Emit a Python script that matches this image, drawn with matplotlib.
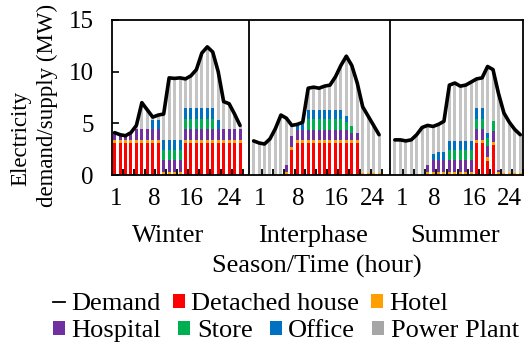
import numpy as np
import matplotlib
matplotlib.use("Agg")
import matplotlib.pyplot as plt
from matplotlib.patches import Patch
from matplotlib.lines import Line2D

plt.rcParams['font.family'] = ['Liberation Serif', 'DejaVu Serif']

# ---------------- data ----------------
seasons = ["Winter", "Interphase", "Summer"]
hour_labels = ["1", "8", "16", "24"]
series_names = ["Detached house", "Hotel", "Hospital", "Store", "Office", "Power Plant"]
series_colors = ["#FF0000", "#FFA000", "#7030A0", "#00B050", "#0070C0", "#C4C4C4"]

winter_demand = [4.1, 3.9, 3.8, 4.1, 4.8, 7.0, 6.3, 5.6, 5.8, 5.9, 9.4, 9.35,
                 9.4, 9.3, 9.6, 10.2, 11.8, 12.4, 11.9, 10.0, 7.1, 6.9, 5.9, 4.8]
winter_house = [3.05, 3.05, 3.05, 3.05, 3.05, 3.05, 3.05, 3.05, 3.05, 0, 0, 0,
                0, 3.05, 3.05, 3.05, 3.05, 3.05, 3.05, 3.05, 3.05, 3.05, 3.05, 3.05]
winter_hotel = [0.35, 0.35, 0.35, 0.35, 0.35, 0.35, 0.35, 0.35, 0.35, 0.3, 0.3, 0.3,
                0.3, 0.35, 0.35, 0.35, 0.35, 0.35, 0.35, 0.35, 0.35, 0.35, 0.35, 0.35]
winter_hospital = [0.7, 0.5, 0.4, 0.7, 1.05, 1.05, 1.05, 1.05, 1.05, 1.15, 1.15, 1.15,
                   1.15, 1.05, 1.05, 1.05, 1.05, 1.05, 1.05, 1.05, 1.05, 1.05, 1.05, 1.05]
winter_store = [0, 0, 0, 0, 0, 0, 0, 0, 0, 1.0, 1.0, 1.0,
                1.0, 1.0, 1.0, 1.0, 1.0, 1.0, 1.0, 0, 0, 0, 0, 0]
winter_office = [0, 0, 0, 0, 0, 0, 0, 0.9, 0.9, 0.9, 0.9, 0.9,
                 0.9, 1.0, 1.0, 1.0, 1.0, 1.0, 1.0, 0.9, 0, 0, 0, 0]
winter_plant = [0, 0, 0, 0, 0.35, 2.55, 1.85, 0.25, 0.45, 2.55, 6.05, 6.0,
                6.05, 2.85, 3.15, 3.75, 5.35, 5.95, 5.45, 4.65, 2.65, 2.45, 1.45, 0.35]

inter_demand = [3.3, 3.1, 3.0, 3.5, 4.5, 5.8, 5.5, 4.8, 4.9, 5.1, 8.4, 8.5,
                8.4, 8.6, 8.7, 9.5, 10.6, 11.5, 10.6, 8.9, 6.6, 5.7, 4.8, 3.9]
inter_house = [0, 0, 0, 0, 0, 0, 0, 2.4, 3.05, 3.05, 3.05, 3.05,
               3.05, 3.05, 3.05, 3.05, 3.05, 3.05, 3.05, 3.05, 0, 0, 0, 0]
inter_hotel = [0, 0, 0, 0, 0, 0, 0.3, 0.3, 0.3, 0.3, 0.3, 0.3,
               0.3, 0.3, 0.3, 0.3, 0.3, 0.3, 0.3, 0.3, 0.2, 0.2, 0.2, 0.2]
inter_hospital = [0, 0, 0, 0, 0, 0, 0.65, 1.1, 1.0, 1.0, 1.0, 1.0,
                  1.0, 1.0, 1.0, 1.0, 1.0, 1.0, 0.75, 0.7, 0, 0, 0, 0]
inter_store = [0, 0, 0, 0, 0, 0, 0, 0, 0, 0, 1.05, 1.05,
               1.05, 1.05, 1.05, 1.05, 1.05, 0.75, 0.6, 0, 0, 0, 0, 0]
inter_office = [0, 0, 0, 0, 0, 0, 0, 0, 0.5, 0.6, 0.85, 0.85,
                0.85, 0.85, 0.85, 0.85, 0.85, 0.6, 0, 0, 0, 0, 0, 0]
inter_plant = [3.3, 3.1, 3.0, 3.5, 4.5, 5.8, 4.55, 1.0, 0.05, 0.15, 2.15, 2.25,
               2.15, 2.35, 2.45, 3.25, 4.35, 5.8, 5.9, 4.85, 6.4, 5.5, 4.6, 3.7]

summer_demand = [3.4, 3.4, 3.3, 3.4, 3.9, 4.6, 4.8, 4.7, 4.9, 5.2, 8.7, 8.9,
                 8.6, 8.7, 9.0, 9.3, 9.4, 10.5, 10.2, 7.9, 6.0, 5.1, 4.4, 3.9]
summer_house = [0, 0, 0, 0, 0, 0, 0, 0, 0, 0, 0, 0,
                0, 0, 0, 3.05, 3.05, 1.4, 2.9, 0, 0, 0, 0, 0]
summer_hotel = [0, 0, 0, 0, 0, 0, 0.3, 0.3, 0.3, 0.3, 0.3, 0.3,
                0.3, 0.3, 0.3, 0.3, 0.3, 0.3, 0.3, 0.3, 0.2, 0.2, 0.2, 0.2]
summer_hospital = [0, 0, 0, 0, 0, 0, 0.65, 1.15, 1.15, 1.15, 1.15, 1.15,
                   1.15, 1.15, 1.15, 1.1, 1.1, 1.1, 1.1, 0.2, 0, 0, 0, 0]
summer_store = [0, 0, 0, 0, 0, 0, 0, 0, 0, 0, 1.0, 1.0,
                1.0, 1.0, 1.0, 1.0, 1.0, 0.8, 0.9, 0, 0, 0, 0, 0]
summer_office = [0, 0, 0, 0, 0, 0, 0, 0.55, 0.8, 0.8, 0.8, 0.8,
                 0.8, 0.8, 0.8, 1.0, 1.0, 0.5, 0, 0, 0, 0, 0, 0]
summer_plant = [3.4, 3.4, 3.3, 3.4, 3.9, 4.6, 3.85, 2.7, 2.65, 2.95, 5.45, 5.65,
                5.35, 5.45, 5.75, 2.85, 2.95, 6.4, 5.0, 7.4, 5.8, 4.9, 4.2, 3.7]

season_demand = [winter_demand, inter_demand, summer_demand]
season_series = [
    [winter_house, winter_hotel, winter_hospital, winter_store, winter_office, winter_plant],
    [inter_house, inter_hotel, inter_hospital, inter_store, inter_office, inter_plant],
    [summer_house, summer_hotel, summer_hospital, summer_store, summer_office, summer_plant],
]

# ---------------- layout ----------------
W, H = 524, 346
fig = plt.figure(figsize=(W / 100, H / 100), dpi=100)
ax_l, ax_r, ax_t, ax_b = 111.7, 523.0, 20.0, 175.0
ax = fig.add_axes([ax_l / W, 1 - ax_b / H, (ax_r - ax_l) / W, (ax_b - ax_t) / H])

offsets = [0.0, 25.5, 51.4]          # slot offset of each season block
separators = [24.6, 50.6]
label_pos = [[0.3, 7.2, 14.0, 21.1],  # positions of hour labels (slot units, relative)
             [1.1, 8.1, 15.2, 21.8],
             [1.4, 7.3, 14.6, 21.0]]
season_label_px = [168, 313, 455]

bar_w = 0.55
tick_major, tick_labels, tick_minor = [], [], []
for s in range(3):
    x = offsets[s] + np.arange(24)
    bottom = np.zeros(24)
    for vals, col in zip(season_series[s], series_colors):
        v = np.asarray(vals, dtype=float)
        ax.bar(x, v, width=bar_w, bottom=bottom, color=col, linewidth=0, zorder=1)
        bottom = bottom + v
    ax.plot(x, season_demand[s], color="black", lw=2.6, zorder=4,
            solid_joinstyle="round", solid_capstyle="round")
    tick_major += [offsets[s] + p for p in label_pos[s]]
    tick_labels += hour_labels
    tick_minor += list(offsets[s] + np.arange(1.5, 24, 2))

for sx in separators:
    ax.axvline(sx, color="black", lw=1.3, zorder=5)

ax.set_xlim(-0.53, 74.8)
ax.set_ylim(0, 15)
ax.set_yticks([0, 5, 10, 15])
ax.tick_params(axis="y", direction="in", length=5, width=1.2, pad=13, labelsize=18)
ax.set_xticks(tick_major)
ax.set_xticklabels(tick_labels)
ax.set_xticks(tick_minor, minor=True)
ax.tick_params(axis="x", which="major", length=0, pad=9, labelsize=18)
ax.tick_params(axis="x", which="minor", direction="in", length=4, width=1.3, color="black")
for sp in ax.spines.values():
    sp.set_linewidth(1.3)
    sp.set_color("black")

for name, px in zip(seasons, season_label_px):
    fig.text(px / W, 1 - 242 / H, name, ha="center", va="baseline", fontsize=19)
fig.text(317 / W, 1 - 273 / H, "Season/Time (hour)", ha="center", va="baseline", fontsize=19)
fig.text(21 / W, 1 - 138 / H, "Electricity", rotation=90,
         ha="center", va="center", fontsize=16.5)
fig.text(47 / W, 1 - 105 / H, "demand/supply (MW)", rotation=90,
         ha="center", va="center", fontsize=16.5)

# legend (two rows, as in the reference)
h_demand = Line2D([], [], color="black", lw=1.3)
patches = [Patch(facecolor=c, edgecolor="none") for c in series_colors[:5]]
patches.append(Patch(facecolor="#A6A6A6", edgecolor="none"))
leg_kw = dict(frameon=False, fontsize=19, handlelength=0.45, handleheight=0.45,
              handletextpad=0.25, borderpad=0, borderaxespad=0, loc="center left")
leg1 = fig.legend([h_demand, patches[0], patches[1]],
                  ["Demand", series_names[0], series_names[1]], ncol=3,
                  columnspacing=0.45, bbox_to_anchor=(53 / W, 1 - 304 / H), **leg_kw)
leg2 = fig.legend([patches[2], patches[3], patches[4], patches[5]],
                  [series_names[2], series_names[3], series_names[4], series_names[5]], ncol=4,
                  columnspacing=0.65, bbox_to_anchor=(53 / W, 1 - 331 / H), **leg_kw)

fig.savefig("out.png", dpi=100)
